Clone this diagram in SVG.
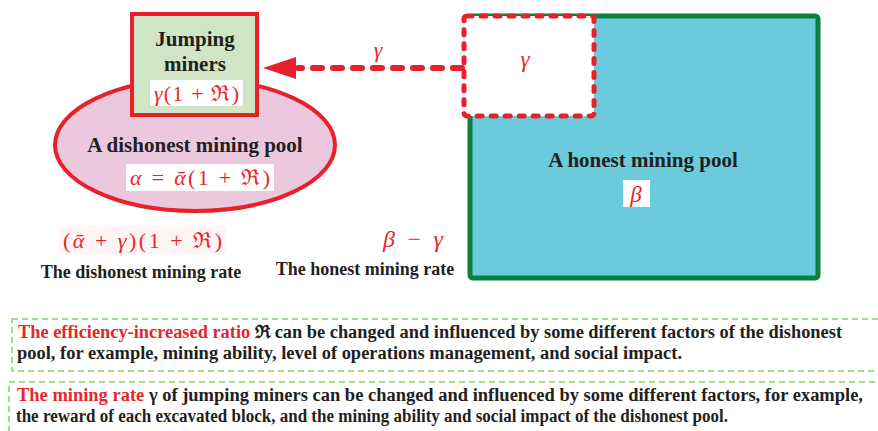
<svg xmlns="http://www.w3.org/2000/svg" width="878" height="431" viewBox="0 0 878 431">
<style>
.lbl{font-family:"Liberation Serif","DejaVu Serif",serif;font-weight:bold;fill:#231f20;text-anchor:middle}
.math{font-family:"Liberation Serif","DejaVu Serif",serif;fill:#e8262a}
.it{font-style:italic}
.note{font-family:"Liberation Serif","DejaVu Serif",serif;font-weight:bold;font-size:18px;fill:#231f20}
.red{fill:#e8262a}
.gbox{fill:none;stroke:#86d063;stroke-width:1.5;stroke-dasharray:6 4}
</style>
<rect width="878" height="431" fill="#ffffff"/>

<g id="honest-pool">
<rect x="470" y="16" width="348" height="262" rx="3" fill="#6bcadb" stroke="#0b7f3e" stroke-width="5"/>
<text class="lbl" x="643" y="167" font-size="21">A honest mining pool</text>
<rect x="623" y="180" width="27" height="27" fill="#ffffff"/>
<text class="math it" x="636" y="202" font-size="23" text-anchor="middle">β</text>
</g>

<g id="jumping-share">
<rect x="464" y="16" width="130" height="100" rx="3" fill="#ffffff" stroke="#e8202a" stroke-width="5" stroke-dasharray="5 9" stroke-linecap="round"/>
<text class="math it" x="525" y="67" font-size="23" text-anchor="middle">γ</text>
</g>

<g id="dishonest-pool">
<ellipse cx="195" cy="145" rx="140" ry="66" fill="#ecc8de" stroke="#e8202a" stroke-width="4"/>
<text class="lbl" x="195" y="152" font-size="21">A dishonest mining pool</text>
<rect x="126" y="164" width="148" height="27" fill="#ffffff"/>
<text class="math" x="130" y="185" font-size="22" textLength="140" lengthAdjust="spacing"><tspan class="it">α</tspan> = <tspan class="it">ᾱ</tspan>(1 + ℜ)</text>
</g>

<g id="jumping-miners">
<rect x="132" y="14" width="125" height="101" fill="#cfe5c6" stroke="#e8202a" stroke-width="4"/>
<text class="lbl" x="195" y="46" font-size="21">Jumping</text>
<text class="lbl" x="195" y="71" font-size="21">miners</text>
<rect x="150" y="80" width="93" height="26" fill="#ffffff"/>
<text class="math" x="154" y="101" font-size="22" textLength="85" lengthAdjust="spacing"><tspan class="it">γ</tspan>(1 + ℜ)</text>
</g>

<g id="connectors">
<line x1="462" y1="68" x2="298" y2="68" stroke="#e8202a" stroke-width="6" stroke-dasharray="9 11" stroke-linecap="round"/>
<polygon points="263,68 296,57 296,79" fill="#e8202a"/>
<text class="math it" x="378" y="57" font-size="22" text-anchor="middle">γ</text>
</g>

<g id="dishonest-rate">
<rect x="59" y="226" width="167" height="28" fill="#fdf4f3"/>
<text class="math" x="63" y="248" font-size="22" textLength="159" lengthAdjust="spacing">(<tspan class="it">ᾱ</tspan> + <tspan class="it">γ</tspan>)(1 + ℜ)</text>
<text class="lbl" x="141" y="278" font-size="18">The dishonest mining rate</text>
</g>

<g id="honest-rate">
<text class="math" x="383" y="247" font-size="24" textLength="60" lengthAdjust="spacing"><tspan class="it">β</tspan> − <tspan class="it">γ</tspan></text>
<text class="lbl" x="365" y="275" font-size="18">The honest mining rate</text>
</g>

<g id="note-ratio">
<rect class="gbox" x="12" y="319" width="880" height="52"/>
<text class="note" x="18" y="338" textLength="824" lengthAdjust="spacingAndGlyphs"><tspan class="red">The efficiency-increased ratio</tspan> ℜ can be changed and influenced by some different factors of the dishonest</text>
<text class="note" x="17" y="359" textLength="665" lengthAdjust="spacingAndGlyphs">pool, for example, mining ability, level of operations management, and social impact.</text>
</g>

<g id="note-rate">
<rect class="gbox" x="9" y="382" width="885" height="60"/>
<text class="note" x="17" y="401" textLength="846" lengthAdjust="spacingAndGlyphs"><tspan class="red">The mining rate</tspan> γ of jumping miners can be changed and influenced by some different factors, for example,</text>
<text class="note" x="16" y="422" textLength="712" lengthAdjust="spacingAndGlyphs">the reward of each excavated block, and the mining ability and social impact of the dishonest pool.</text>
</g>
</svg>
